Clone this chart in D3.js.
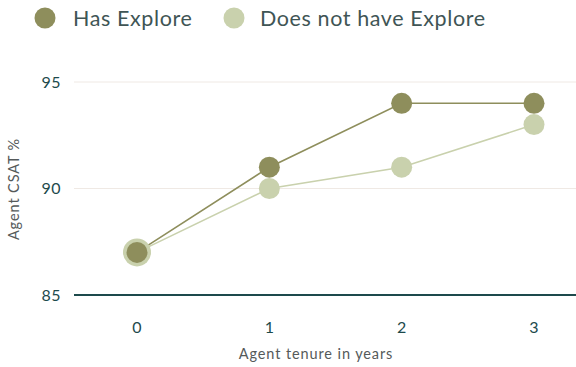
<!DOCTYPE html>
<html>
<head>
<meta charset="utf-8">
<script src="https://cdn.jsdelivr.net/npm/d3@7"></script>
<style>
  html, body { margin: 0; padding: 0; background: #fff; }
  svg { display: block; font-family: Lato, "Open Sans", sans-serif; }
</style>
</head>
<body>
<svg id="chart" width="576" height="367"></svg>
<script>
// Agent tenure (years) on the x axis
const tenure = [0, 1, 2, 3];
// CSAT % for each group
const hasExplore = [87, 91, 94, 94];
const noExplore = [87, 90, 91, 93];
const yTicks = [85, 90, 95];
const seriesNames = ["Has Explore", "Does not have Explore"];
const seriesColors = ["#8e8e5c", "#c9d1ad"];

const svg = d3.select("#chart");

const x = d3.scaleLinear().domain([0, 3]).range([137, 534]);
const y = d3.scaleLinear().domain([85, 95]).range([295, 82]);

// Light horizontal gridlines
svg.append("g")
  .selectAll("line")
  .data(yTicks.filter(d => d !== 85))
  .join("line")
  .attr("x1", 74).attr("x2", 576)
  .attr("y1", d => y(d)).attr("y2", d => y(d))
  .attr("stroke", "#efe9e4").attr("stroke-width", 1);

// Baseline at 85
svg.append("line")
  .attr("x1", 74).attr("x2", 576)
  .attr("y1", y(85)).attr("y2", y(85))
  .attr("stroke", "#1d4a4c").attr("stroke-width", 2);

// Y tick labels
svg.append("g")
  .selectAll("text")
  .data(yTicks)
  .join("text")
  .attr("x", 61).attr("y", d => y(d))
  .attr("dy", "0.35em")
  .attr("text-anchor", "end")
  .attr("font-size", 16)
  .attr("letter-spacing", 0.5)
  .attr("fill", "#1d4a4c")
  .text(d => d);

// X tick labels
svg.append("g")
  .selectAll("text")
  .data(tenure)
  .join("text")
  .attr("x", d => x(d)).attr("y", 327)
  .attr("dy", "0.35em")
  .attr("text-anchor", "middle")
  .attr("font-size", 16)
  .attr("fill", "#1d4a4c")
  .text(d => d);

// Axis titles
svg.append("text")
  .attr("x", 316).attr("y", 354)
  .attr("dy", "0.35em")
  .attr("text-anchor", "middle")
  .attr("font-size", 14.5)
  .attr("letter-spacing", 0.9)
  .attr("fill", "#555a5a")
  .text("Agent tenure in years");

svg.append("text")
  .attr("transform", "translate(14,189) rotate(-90)")
  .attr("dy", "0.35em")
  .attr("text-anchor", "middle")
  .attr("font-size", 14.5)
  .attr("letter-spacing", 0.9)
  .attr("fill", "#555a5a")
  .text("Agent CSAT %");

// Series lines and points; lighter series underneath
const line = d3.line().x((d, i) => x(tenure[i])).y(d => y(d));
const series = [
  { values: noExplore, color: seriesColors[1], r: [14, 10.5, 10.5, 10.5] },
  { values: hasExplore, color: seriesColors[0], r: [10.5, 10.5, 10.5, 10.5] }
];

series.forEach(s => {
  svg.append("path")
    .datum(s.values)
    .attr("d", line)
    .attr("fill", "none")
    .attr("stroke", s.color)
    .attr("stroke-width", 1.6);
});
series.forEach(s => {
  svg.append("g")
    .selectAll("circle")
    .data(s.values)
    .join("circle")
    .attr("cx", (d, i) => x(tenure[i]))
    .attr("cy", d => y(d))
    .attr("r", (d, i) => s.r[i])
    .attr("fill", s.color);
});

// Legend
const legendItems = [
  { name: seriesNames[0], color: seriesColors[0], cx: 45, tx: 73 },
  { name: seriesNames[1], color: seriesColors[1], cx: 234, tx: 260 }
];
const legend = svg.append("g");
legendItems.forEach(l => {
  legend.append("circle")
    .attr("cx", l.cx).attr("cy", 18).attr("r", 10.5)
    .attr("fill", l.color);
  legend.append("text")
    .attr("x", l.tx).attr("y", 18)
    .attr("dy", "0.35em")
    .attr("font-size", 21.5)
    .attr("letter-spacing", 0.6)
    .attr("fill", "#3f5555")
    .text(l.name);
});
</script>
</body>
</html>
